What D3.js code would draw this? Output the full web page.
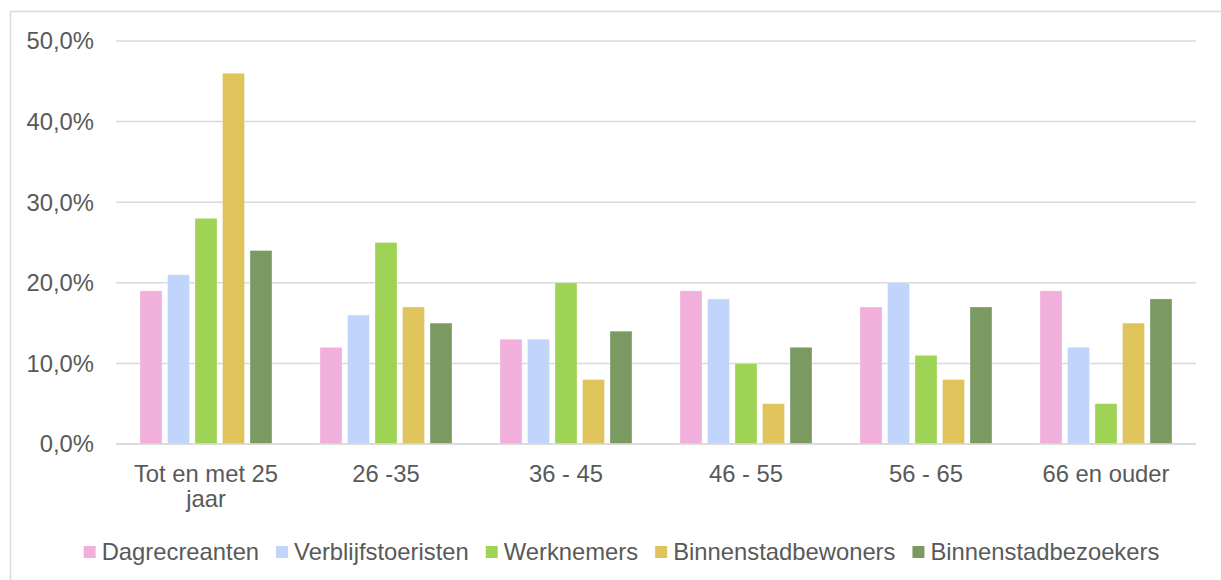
<!DOCTYPE html>
<html>
<head>
<meta charset="utf-8">
<script src="https://cdn.jsdelivr.net/npm/d3@7"></script>
<style>
  html, body { margin: 0; padding: 0; background: #fff; }
  svg { display: block; font-family: "Liberation Sans", Arial, sans-serif; }
</style>
</head>
<body>
<div id="chart"></div>
<script>
// data
const categories = ["Tot en met 25|jaar", "26 -35", "36 - 45", "46 - 55", "56 - 65", "66 en ouder"];
const seriesNames = ["Dagrecreanten", "Verblijfstoeristen", "Werknemers", "Binnenstadbewoners", "Binnenstadbezoekers"];
const dagrecreanten = [19, 12, 13, 19, 17, 19];
const verblijfstoeristen = [21, 16, 13, 18, 20, 12];
const werknemers = [28, 25, 20, 10, 11, 5];
const binnenstadbewoners = [46, 17, 8, 5, 8, 15];
const binnenstadbezoekers = [24, 15, 14, 12, 17, 18];
const yTicks = [0, 10, 20, 30, 40, 50];
const colors = ["#f1b0db", "#c1d4fc", "#9ed355", "#dec45b", "#7a9a62"];

const seriesValues = [dagrecreanten, verblijfstoeristen, werknemers, binnenstadbewoners, binnenstadbezoekers];

const W = 1221, H = 580;
const plotLeft = 116, plotRight = 1196, plotTop = 41, plotBottom = 444;
const textColor = "#595959";
const fontSize = 23.8;

const svg = d3.select("#chart").append("svg")
  .attr("width", W).attr("height", H);

// chart border (runs off the right and bottom of the picture)
svg.append("rect")
  .attr("x", 10.5).attr("y", 11.5)
  .attr("width", 1240).attr("height", 600)
  .attr("fill", "#fff")
  .attr("stroke", "#d9d9d9").attr("stroke-width", 1.5);

const y = d3.scaleLinear().domain([0, 50]).range([plotBottom, plotTop]);
const x0 = d3.scaleBand().domain(categories).range([plotLeft, plotRight]);
const x1 = d3.scaleBand().domain(seriesNames).range([0, x0.bandwidth()])
  .paddingInner(0.2).paddingOuter(0.873);

// gridlines
svg.append("g").selectAll("line")
  .data(yTicks)
  .enter().append("line")
  .attr("x1", plotLeft).attr("x2", plotRight)
  .attr("y1", d => y(d)).attr("y2", d => y(d))
  .attr("stroke", "#d9d9d9").attr("stroke-width", 1.5);

// y tick labels
svg.append("g").selectAll("text")
  .data(yTicks)
  .enter().append("text")
  .attr("x", 94).attr("y", d => y(d))
  .attr("dy", "0.35em")
  .attr("text-anchor", "end")
  .attr("fill", textColor)
  .style("font-size", fontSize + "px")
  .text(d => d.toFixed(1).replace(".", ",") + "%");

// bars
const groups = svg.append("g").selectAll("g")
  .data(categories)
  .enter().append("g")
  .attr("transform", d => "translate(" + x0(d) + ",0)");

groups.selectAll("rect")
  .data((c, ci) => seriesNames.map((s, si) => ({ s: s, si: si, v: seriesValues[si][ci] })))
  .enter().append("rect")
  .attr("x", d => x1(d.s))
  .attr("width", x1.bandwidth())
  .attr("y", d => y(d.v))
  .attr("height", d => plotBottom - y(d.v))
  .attr("fill", d => colors[d.si])
  .attr("stroke", "#ffffff").attr("stroke-opacity", 0.4).attr("stroke-width", 0.75);

// baseline over bars
svg.append("line")
  .attr("x1", plotLeft).attr("x2", plotRight)
  .attr("y1", plotBottom).attr("y2", plotBottom)
  .attr("stroke", "#d9d9d9").attr("stroke-width", 1.5);

// category labels
const catText = svg.append("g").selectAll("text")
  .data(categories)
  .enter().append("text")
  .attr("text-anchor", "middle")
  .attr("fill", textColor)
  .style("font-size", fontSize + "px");

catText.selectAll("tspan")
  .data(d => d.split("|").map(t => ({ t: t, c: d })))
  .enter().append("tspan")
  .attr("x", d => x0(d.c) + x0.bandwidth() / 2)
  .attr("y", (d, i) => 482 + i * 25)
  .text(d => d.t);

// legend
const legend = svg.append("g");
const items = legend.selectAll("g")
  .data(seriesNames)
  .enter().append("g");

items.append("rect")
  .attr("width", 12).attr("height", 12)
  .attr("y", 546)
  .attr("fill", (d, i) => colors[i]);

items.append("text")
  .attr("x", 18).attr("y", 560)
  .attr("fill", textColor)
  .style("font-size", fontSize + "px")
  .text(d => d);

let pos = 0;
const offsets = [];
items.each(function() {
  offsets.push(pos);
  const w = d3.select(this).select("text").node().getComputedTextLength();
  pos += 18 + w + 17;
});
const totalW = pos - 17;
const startX = 621.5 - totalW / 2;
items.attr("transform", (d, i) => "translate(" + (startX + offsets[i]) + ",0)");
</script>
</body>
</html>
